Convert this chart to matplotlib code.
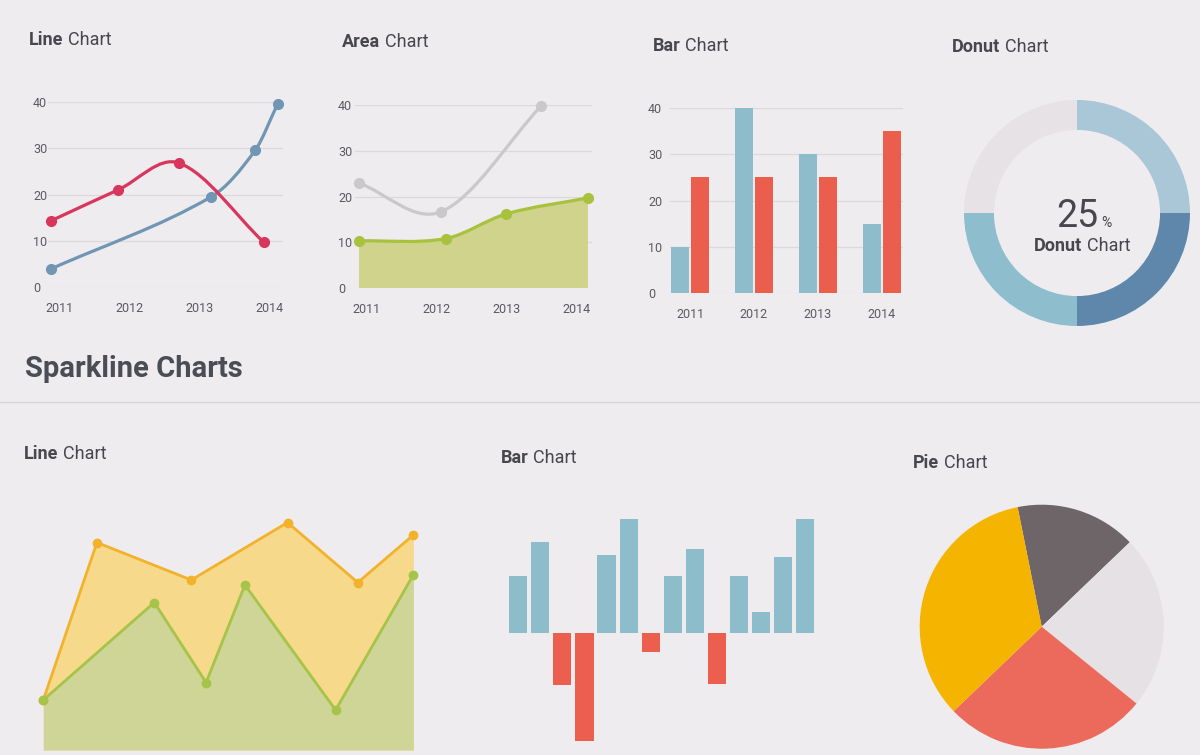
import numpy as np
import matplotlib.pyplot as plt
from matplotlib.path import Path
from matplotlib.patches import PathPatch
from matplotlib.lines import Line2D

plt.rcParams['font.family'] = ['Roboto', 'DejaVu Sans']

W, H = 1200, 755
BG = '#eeecef'
TXT = '#48474d'
TICK = '#5b5a60'
GRID = '#dcd8dd'

# ---- data ----
years = [2011, 2012, 2013, 2014]

line_red_x = [2010.87, 2011.83, 2012.70, 2013.91]
line_red_y = [14.3, 21.0, 26.8, 9.7]
line_blue_x = [2010.87, 2013.16, 2013.79, 2014.11]
line_blue_y = [3.9, 19.5, 29.6, 39.6]

area_gray_x = [2010.89, 2012.07, 2013.50]
area_gray_y = [22.9, 16.7, 39.8]
area_green_x = [2010.89, 2012.13, 2013.00, 2014.17]
area_green_y = [10.3, 10.8, 16.2, 19.7]

bar_blue = [10, 40, 30, 15]
bar_red = [25, 25, 25, 35]

donut_share = [25, 25, 25, 25]
donut_colors = ['#a9c7d7', '#5e87ab', '#8ebdcd', '#e6e2e5']

spark_orange_x = [0, 1.45, 4.0, 6.6, 8.5, 10]
spark_orange_y = [20, 83, 68, 91, 67, 86]
spark_green_x = [0, 3.0, 4.4, 5.45, 7.9, 10]
spark_green_y = [20, 59, 27, 66, 16, 70]

spark_bars = [50, 80, -46, -95, 68, 100, -17, 50, 74, -45, 50, 18, 67, 100]

pie_share = [16, 23, 27, 34]
pie_colors = ['#6d6568', '#e5e1e4', '#ec6a5b', '#f4b400']


fig = plt.figure(figsize=(12, 7.55), dpi=100, facecolor=BG)


def px_axes(left, top, right, bottom):
    ax = fig.add_axes([left / W, 1 - bottom / H, (right - left) / W, (bottom - top) / H])
    ax.set_facecolor('none')
    for s in ax.spines.values():
        s.set_visible(False)
    return ax


def title(x, y, bold, rest, size=13, ha='left'):
    kw = dict(fontsize=size, color=TXT, va='baseline')
    t1 = fig.text(x / W, 1 - y / H, bold, fontweight='bold', **kw)
    t2 = fig.text(x / W, 1 - y / H, rest, **kw)
    r = fig.canvas.get_renderer()
    w1 = t1.get_window_extent(r).width
    w2 = t2.get_window_extent(r).width
    gap = size * 0.25 * 100 / 72
    x0 = x - (w1 + gap + w2) / 2 if ha == 'center' else x
    t1.set_x(x0 / W)
    t2.set_x((x0 + w1 + gap) / W)


def smooth_path(xs, ys, base=None):
    # smooth curve through the points (bezier segments, handles at 1/3 of dx)
    x = np.asarray(xs, float)
    y = np.asarray(ys, float)
    n = len(x)
    sec = np.diff(y) / np.diff(x)
    m = np.empty(n)
    m[0], m[-1] = sec[0], sec[-1]
    for i in range(1, n - 1):
        m[i] = (y[i + 1] - y[i - 1]) / (x[i + 1] - x[i - 1])
    verts = [(x[0], y[0])]
    codes = [Path.MOVETO]
    for i in range(n - 1):
        d = (x[i + 1] - x[i]) / 3
        verts += [(x[i] + d, y[i] + m[i] * d), (x[i + 1] - d, y[i + 1] - m[i + 1] * d),
                  (x[i + 1], y[i + 1])]
        codes += [Path.CURVE4] * 3
    if base is not None:
        verts += [(x[-1], base), (x[0], base), (x[0], y[0])]
        codes += [Path.LINETO, Path.LINETO, Path.CLOSEPOLY]
    return Path(verts, codes)


def grid_axes(ax, ylab_pad, xlab_pad):
    ax.set_ylim(0, 40)
    ax.set_yticks([0, 10, 20, 30, 40])
    ax.yaxis.grid(True, color=GRID, lw=0.9)
    ax.set_axisbelow(True)
    ax.tick_params(length=0, labelsize=9, colors=TICK)
    ax.tick_params(axis='y', pad=ylab_pad)
    ax.tick_params(axis='x', pad=xlab_pad)
    for lab in ax.get_yticklabels():
        lab.set_ha('left')


# ---- Line chart ----
ax = px_axes(48, 102, 283, 287)
ax.set_xlim(2010.829, 2014.186)
ax.set_xticks(years)
grid_axes(ax, 10.8, 10.5)
ax.add_patch(PathPatch(smooth_path(line_blue_x, line_blue_y), fill=False,
                       ec='#7096b3', lw=2.3, clip_on=False))
ax.add_patch(PathPatch(smooth_path(line_red_x, line_red_y), fill=False,
                       ec='#d8365c', lw=2.3, clip_on=False))
ax.plot(line_blue_x, line_blue_y, 'o', color='#7096b3', ms=7, clip_on=False)
ax.plot(line_red_x, line_red_y, 'o', color='#d8365c', ms=7, clip_on=False)
title(29, 45, 'Line', 'Chart')

# ---- Area chart ----
ax = px_axes(355, 105, 592, 288)
ax.set_xlim(2010.832, 2014.228)
ax.set_xticks(years)
grid_axes(ax, 12.2, 11)
ax.add_patch(PathPatch(smooth_path(area_green_x, area_green_y, base=0),
                       fc='#cfd38c', ec='none', clip_on=False))
ax.add_patch(PathPatch(smooth_path(area_green_x, area_green_y), fill=False,
                       ec='#a8c23e', lw=2.3, clip_on=False))
ax.add_patch(PathPatch(smooth_path(area_gray_x, area_gray_y), fill=False,
                       ec='#cbc8cc', lw=2.3, clip_on=False))
ax.plot(area_gray_x, area_gray_y, 'o', color='#cbc8cc', ms=7, clip_on=False)
ax.plot(area_green_x, area_green_y, 'o', color='#a8c23e', ms=7, clip_on=False)
title(342, 47, 'Area', 'Chart')

# ---- Bar chart ----
ax = px_axes(670, 108, 903, 293)
idx = np.arange(len(years))
ax.set_xlim(-0.313, 3.333)
ax.set_xticks(idx, [str(y) for y in years])
grid_axes(ax, 15.8, 10.5)
ax.bar(idx - 0.155, bar_blue, width=0.28, color='#8fbccb')
ax.bar(idx + 0.155, bar_red, width=0.28, color='#ec5e4c')
title(653, 51, 'Bar', 'Chart')

# ---- Donut ----
ax = px_axes(964, 100, 1190, 326)
ax.pie(donut_share, colors=donut_colors, startangle=90, counterclock=False,
       radius=1, wedgeprops=dict(width=0.265, linewidth=0))
ax.set_xlim(-1, 1)
ax.set_ylim(-1, 1)
fig.text(1077.5 / W, 1 - 227 / H, '25', fontsize=27, fontweight='normal',
         color=TXT, ha='center', va='baseline')
fig.text(1101 / W, 1 - 227 / H, '%', fontsize=10, color=TXT, va='baseline')
title(1082, 251, 'Donut', 'Chart', ha='center')
title(952, 52, 'Donut', 'Chart')

# ---- Sparkline header ----
fig.text(25 / W, 1 - 377 / H, 'Sparkline Charts', fontsize=21, fontweight='bold',
         color='#4a4d55', va='baseline')
fig.add_artist(Line2D([0, 1], [1 - 402 / H] * 2, color='#d8d4d8', lw=0.9))

# ---- Sparkline line chart ----
ax = px_axes(43.3, 500, 413.3, 750)
ax.set_xlim(0, 10)
ax.set_ylim(0, 100)
ax.set_xticks([])
ax.set_yticks([])
ax.fill_between(spark_orange_x, spark_orange_y, 0, color='#f6d98a', lw=0)
ax.fill_between(spark_green_x, spark_green_y, 0, color='#cfd596', lw=0)
ax.plot(spark_orange_x, spark_orange_y, '-o', color='#f2b22b', lw=2, ms=6, clip_on=False)
ax.plot(spark_green_x, spark_green_y, '-o', color='#a6c34a', lw=2, ms=6, clip_on=False)
title(24, 459, 'Line', 'Chart')

# ---- Sparkline bar chart ----
ax = px_axes(507.3, 519, 816, 747)
sidx = np.arange(len(spark_bars))
ax.set_xlim(-0.5, len(spark_bars) - 0.5)
ax.set_ylim(-100, 100)
ax.set_xticks([])
ax.set_yticks([])
ax.bar(sidx, spark_bars, width=0.82,
       color=['#8dbccb' if v >= 0 else '#ec5e4d' for v in spark_bars])
title(501, 463, 'Bar', 'Chart')

# ---- Pie ----
ax = px_axes(919.7, 504.7, 1163.7, 748.7)
ax.pie(pie_share, colors=pie_colors, startangle=101.4, counterclock=False,
       radius=1, wedgeprops=dict(linewidth=0))
ax.set_xlim(-1, 1)
ax.set_ylim(-1, 1)
title(913, 468, 'Pie', 'Chart')

fig.savefig('out.png', dpi=100, facecolor=BG)
